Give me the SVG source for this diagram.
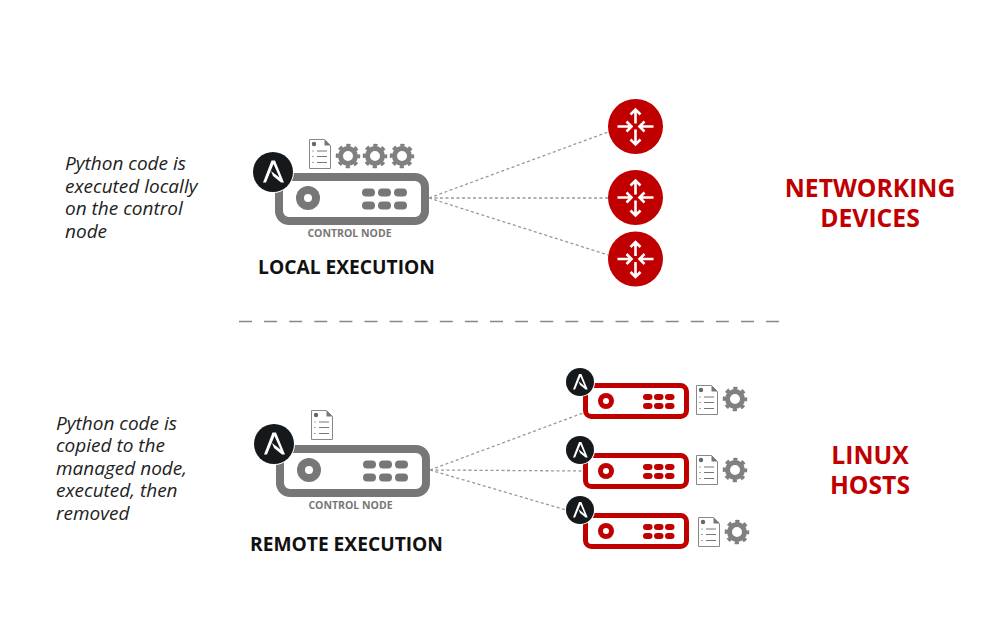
<svg xmlns="http://www.w3.org/2000/svg" xmlns:xlink="http://www.w3.org/1999/xlink" width="1004" height="626" viewBox="0 0 1004 626">
<style>
text{font-family:"Open Sans","Liberation Sans",sans-serif}
.note{font-size:19px;font-style:italic;fill:#222}
.head{font-size:24.700px;font-weight:700;fill:#c00000;text-anchor:middle}
.mode{font-size:19.200px;font-weight:700;fill:#111;text-anchor:middle}
.cap{font-size:10.500px;font-weight:700;fill:#777;text-anchor:middle}
.dash{fill:none;stroke:#999;stroke-width:1.300;stroke-dasharray:3 2.500}
.div{fill:none;stroke:#888;stroke-width:1.300;stroke-dasharray:13 12.100}
</style>
<defs>
<g id="badgeL"><circle r="21" fill="#fff"/><circle r="20" fill="#15191c"/><path d="M-10 10.500L-1.500 -11.500L2 -11.500L11 10.500L8 10.500L0 4L-2 -1L6.500 5.500L0.500 -8L-7 10.500Z" fill="#fff"/></g>
<g id="badgeS"><circle r="15" fill="#fff"/><circle r="14" fill="#15191c"/><path d="M-7 7.500L-1 -8L1.400 -8L7.700 7.500L5.600 7.500L0 3L-1.400 -0.700L4.500 3.900L0.400 -5.600L-4.900 7.500Z" fill="#fff"/></g>
<g id="gear"><circle r="7.500" fill="none" stroke="#808080" stroke-width="5"/><circle r="10.500" fill="none" stroke="#808080" stroke-width="3.500" stroke-dasharray="4.120 4.125" stroke-dashoffset="2"/></g>
<g id="doc"><path d="M0.500 0.500H15.500L21.500 6.500V29.500H0.500Z" fill="#fff" stroke="#888" stroke-width="1"/><path d="M15.500 0.500L21.500 6.500H15.500Z" fill="#777"/><circle cx="5" cy="5" r="2.200" fill="#666"/><path d="M8 12H18M8 17.500H18M8 23.500H18" stroke="#777" stroke-width="1"/><path d="M4 11.500V12.500M4 17V18M4 23V24" stroke="#555" stroke-width="1"/></g>
<g id="serverL"><rect x="4" y="4" width="146" height="44" rx="10" fill="#fff" stroke="#777" stroke-width="8"/><circle cx="33" cy="25" r="12" fill="#777"/><circle cx="33" cy="25" r="4" fill="#fff"/><g fill="#777"><rect x="87" y="15.500" width="13" height="8" rx="4"/><rect x="103" y="15.500" width="13" height="8" rx="4"/><rect x="119" y="15.500" width="13" height="8" rx="4"/><rect x="87" y="28.500" width="13" height="8" rx="4"/><rect x="103" y="28.500" width="13" height="8" rx="4"/><rect x="119" y="28.500" width="13" height="8" rx="4"/></g></g>
<g id="serverR"><rect x="2.500" y="2.500" width="101" height="31" rx="6" fill="#fff" stroke="#c00000" stroke-width="5"/><circle cx="23" cy="18" r="8" fill="#c00000"/><circle cx="23" cy="18" r="3" fill="#fff"/><g fill="#c00000"><rect x="60" y="11" width="9.500" height="6" rx="3"/><rect x="71" y="11" width="9.500" height="6" rx="3"/><rect x="82" y="11" width="9.500" height="6" rx="3"/><rect x="60" y="20" width="9.500" height="6" rx="3"/><rect x="71" y="20" width="9.500" height="6" rx="3"/><rect x="82" y="20" width="9.500" height="6" rx="3"/></g></g>
<g id="router"><circle r="27.500" fill="#c00000"/><path d="M0 -3V-17M-5 -12L0 -17L5 -12M0 3V18M-5 13L0 18L5 13M-18 0H-4M-9 -5L-4 0L-9 5M18 0H4M9 -5L4 0L9 5" fill="none" stroke="#fff" stroke-width="2.600"/></g>
</defs>
<rect width="1004" height="626" fill="#fff"/>
<g id="connectors">
<path class="dash" d="M429 198L608 132M429 198L608 198M429 198L608 255"/>
<path class="dash" d="M430 470L583 413M430 470L583 471M430 470L583 515"/>
<path class="div" d="M239 321.500H781"/>
</g>
<g id="note-local"><text class="note" x="65" y="169.500">Python code is</text><text class="note" x="65" y="192.500">executed locally</text><text class="note" x="65" y="214.500">on the control</text><text class="note" x="65" y="237.500">node</text></g>
<g id="note-remote"><text class="note" x="56" y="429.500">Python code is</text><text class="note" x="56" y="452">copied to the</text><text class="note" x="56" y="474.500">managed node,</text><text class="note" x="56" y="497">executed, then</text><text class="note" x="56" y="519.500">removed</text></g>
<g id="control-local">
<use href="#serverL" x="275" y="173"/><use href="#badgeL" x="273" y="172"/>
<use href="#doc" x="309" y="139"/><use href="#gear" x="348" y="156"/><use href="#gear" x="375" y="156"/><use href="#gear" x="402" y="156"/>
<text class="cap" x="349.500" y="237">CONTROL NODE</text><text class="mode" x="346.500" y="273.700">LOCAL EXECUTION</text>
</g>
<g id="control-remote">
<use href="#serverL" x="276" y="445"/><use href="#badgeL" x="274" y="444"/>
<use href="#doc" x="311" y="410"/>
<text class="cap" x="350.500" y="509">CONTROL NODE</text><text class="mode" x="346.500" y="550.700">REMOTE EXECUTION</text>
</g>
<g id="router-1"><use href="#router" x="635.500" y="126.500"/></g>
<g id="router-2"><use href="#router" x="635.500" y="197.500"/></g>
<g id="router-3"><use href="#router" x="635.500" y="259"/></g>
<g id="host-1"><use href="#serverR" x="583" y="383"/><use href="#badgeS" x="580" y="382"/><use href="#doc" x="696" y="385"/><use href="#gear" x="735" y="399"/></g>
<g id="host-2"><use href="#serverR" x="583" y="453"/><use href="#badgeS" x="580" y="450"/><use href="#doc" x="696" y="455"/><use href="#gear" x="735" y="470"/></g>
<g id="host-3"><use href="#serverR" x="583" y="513"/><use href="#badgeS" x="580" y="510"/><use href="#doc" x="698" y="517"/><use href="#gear" x="737" y="532"/></g>
<g id="label-networking"><text class="head" x="870" y="196.500">NETWORKING</text><text class="head" x="870" y="226.500">DEVICES</text></g>
<g id="label-linux"><text class="head" x="870" y="463.500">LINUX</text><text class="head" x="870" y="493.500">HOSTS</text></g>
</svg>
